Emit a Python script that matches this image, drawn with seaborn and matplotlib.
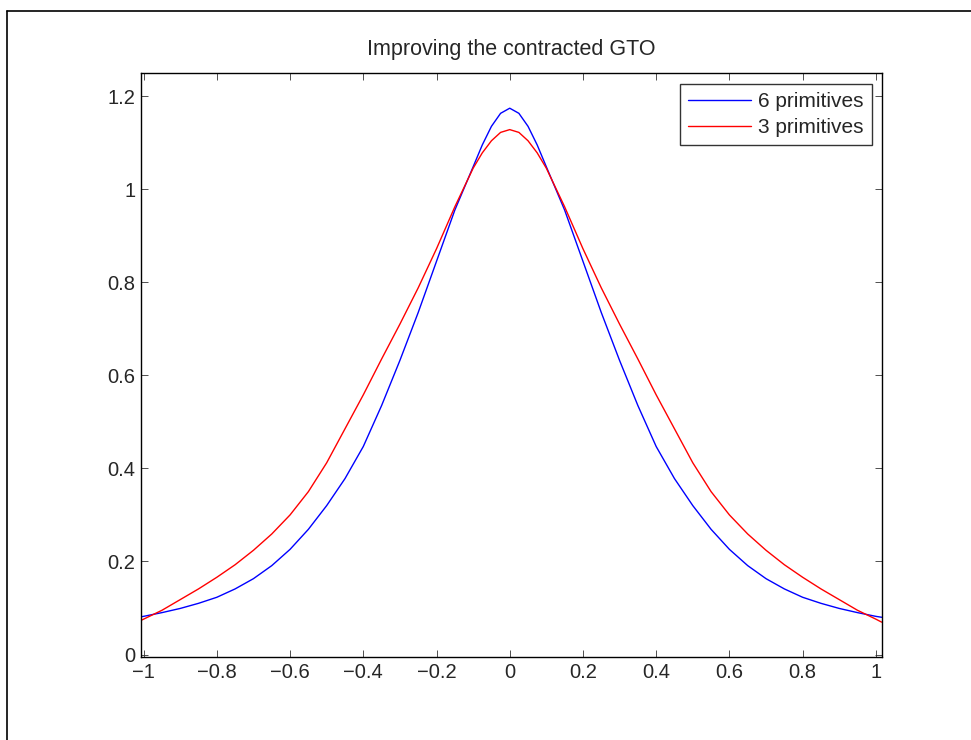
import matplotlib
matplotlib.use("Agg")
import matplotlib.pyplot as plt
import seaborn as sns
import pandas as pd
from matplotlib.lines import Line2D

# ---- data ----
x_vals = [-1.008, -1.0, -0.95, -0.9, -0.85, -0.8, -0.75, -0.7, -0.65, -0.6, -0.55, -0.5,
          -0.45, -0.4, -0.35, -0.3, -0.25, -0.2, -0.15, -0.1, -0.075, -0.05, -0.025, 0.0,
          0.025, 0.05, 0.075, 0.1, 0.15, 0.2, 0.25, 0.3, 0.35, 0.4, 0.45, 0.5,
          0.55, 0.6, 0.65, 0.7, 0.75, 0.8, 0.85, 0.9, 0.95, 1.0, 1.016]
six_prim = [0.081, 0.082, 0.090, 0.099, 0.110, 0.123, 0.141, 0.163, 0.191, 0.226, 0.269, 0.320,
            0.378, 0.447, 0.535, 0.632, 0.735, 0.845, 0.955, 1.048, 1.095, 1.135, 1.163, 1.174,
            1.163, 1.135, 1.095, 1.048, 0.955, 0.845, 0.735, 0.632, 0.535, 0.447, 0.378, 0.320,
            0.269, 0.226, 0.191, 0.163, 0.141, 0.123, 0.110, 0.099, 0.090, 0.082, 0.080]
three_prim = [0.073, 0.076, 0.095, 0.118, 0.141, 0.166, 0.193, 0.224, 0.259, 0.300, 0.350, 0.412,
              0.485, 0.558, 0.635, 0.710, 0.788, 0.872, 0.962, 1.045, 1.078, 1.104, 1.122, 1.128,
              1.122, 1.104, 1.078, 1.045, 0.962, 0.872, 0.788, 0.710, 0.635, 0.558, 0.485, 0.412,
              0.350, 0.300, 0.259, 0.224, 0.193, 0.166, 0.141, 0.118, 0.095, 0.076, 0.0695]
series_names = ["6 primitives", "3 primitives"]
series_colors = ["#0000ff", "#ff0000"]
x_ticks = [-1, -0.8, -0.6, -0.4, -0.2, 0, 0.2, 0.4, 0.6, 0.8, 1]
y_ticks = [0, 0.2, 0.4, 0.6, 0.8, 1, 1.2]
title = "Improving the contracted GTO"

df = pd.DataFrame({
    "x": x_vals * 2,
    "y": six_prim + three_prim,
    "series": [series_names[0]] * len(x_vals) + [series_names[1]] * len(x_vals),
})

sns.set_style("ticks")
plt.rcParams["font.family"] = ["Liberation Sans", "DejaVu Sans"]
plt.rcParams["font.size"] = 14.5

W, H = 971, 740
fig = plt.figure(figsize=(W / 100, H / 100), dpi=100)
fig.patch.set_facecolor("white")
ax = fig.add_axes([140.7 / W, 1 - 657.3 / H, (881.7 - 140.7) / W, (657.3 - 73.3) / H])

sns.lineplot(data=df, x="x", y="y", hue="series", palette=dict(zip(series_names, series_colors)),
             ax=ax, linewidth=1.0, sort=False, estimator=None, legend=False)

ax.set_xlim(-1.008, 1.016)
ax.set_ylim(-0.006, 1.249)
ax.set_xticks(x_ticks)
ax.set_yticks(y_ticks)
ax.set_xticklabels([("%g" % t).replace("-", "\u2212") for t in x_ticks])
ax.set_yticklabels(["%g" % t for t in y_ticks])
ax.set_xlabel("")
ax.set_ylabel("")
ax.set_title(title, fontsize=15.5, pad=13)

for s in ax.spines.values():
    s.set_visible(True)
    s.set_linewidth(1.0)
    s.set_color("black")
ax.tick_params(direction="in", length=5, width=0.6, top=True, right=True, labelsize=14.5,
               color="#333333", pad=4)
ax.grid(False)

handles = [Line2D([0], [0], color=c, lw=1.0) for c in series_colors]
leg = ax.legend(handles, series_names, loc="upper right",
                bbox_to_anchor=(1 - 10 / 741, 1 - 11 / 584), borderaxespad=0,
                frameon=True, fancybox=False, shadow=False, fontsize=15,
                handlelength=3.0, handletextpad=0.36, labelspacing=0.33, borderpad=0.38)
leg.get_frame().set_edgecolor("black")
leg.get_frame().set_linewidth(1.0)

# outer frame border of the figure
fx = 7.3 / W
fy = 1 - 10.7 / H
fig.add_artist(Line2D([fx, fx], [0, fy], transform=fig.transFigure, color="black", lw=1.2))
fig.add_artist(Line2D([fx, 1], [fy, fy], transform=fig.transFigure, color="black", lw=1.2))

fig.savefig("out.png", dpi=100)
